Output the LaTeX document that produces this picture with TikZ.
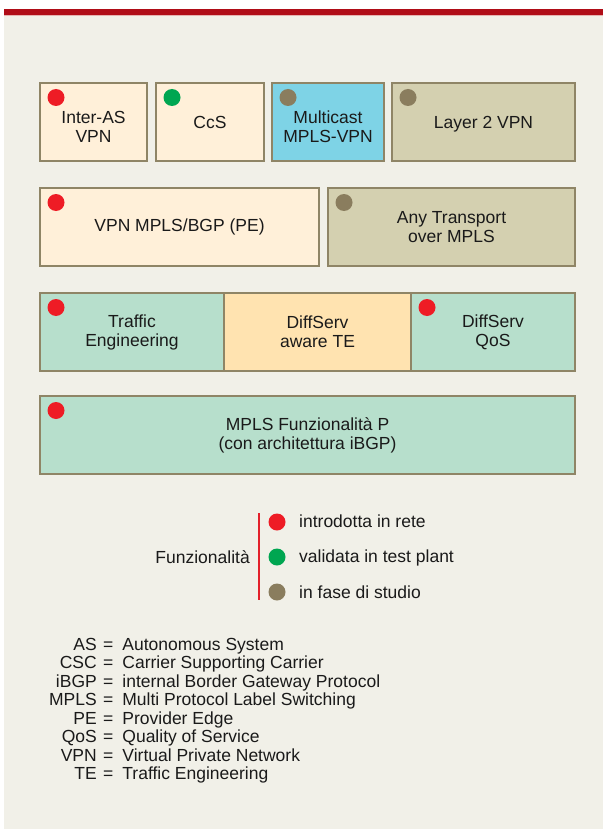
\documentclass[tikz,border=0pt]{standalone}
\usepackage{fontspec}
\setmainfont{Liberation Sans}
\usepackage{xcolor}
\usepackage{tikz}
\usetikzlibrary{positioning}

\definecolor{barred}{HTML}{B00D17}
\definecolor{barpink}{HTML}{E6B3B0}
\definecolor{panel}{HTML}{F1F0E8}
\definecolor{boxline}{HTML}{8F8566}
\definecolor{cream}{HTML}{FFF0D9}
\definecolor{skyblue}{HTML}{7ED3E6}
\definecolor{khaki}{HTML}{D4D0B0}
\definecolor{mint}{HTML}{B7DFCC}
\definecolor{apricot}{HTML}{FFE3B0}
\definecolor{dotred}{HTML}{EE1C25}
\definecolor{dotgreen}{HTML}{00A651}
\definecolor{dotbrown}{HTML}{8A7D5E}
\definecolor{legendred}{HTML}{E3202A}
\definecolor{inktext}{HTML}{1A1A1A}

\begin{document}
\begin{tikzpicture}[
  x=1pt, y=-1pt,
  node distance=8pt,
  every node/.style={font=\fontsize{17.5}{19}\selectfont, text=inktext, inner sep=0pt},
  funcbox/.style={rectangle, draw=boxline, line width=1.6pt, outer sep=0pt,
                  anchor=north west, align=center, minimum height=78pt},
  dot/.style={circle, minimum size=17pt, outer sep=0pt}
]

% page and red top bar
\useasboundingbox (0,0) rectangle (603,829);
\fill[white] (0,0) rectangle (603,829);
\fill[panel] (4,15) rectangle (603,829);
\fill[barpink] (4,15) rectangle (603,16.5);
\fill[barred] (4,9) rectangle (603,15);

% row 1
\node[funcbox, fill=cream, minimum width=107pt] (interas) at (40,83) {\rule{0pt}{22.5pt}Inter-AS\\VPN};
\node[funcbox, fill=cream, minimum width=108pt, right=9pt of interas] (ccs) {CcS};
\node[funcbox, fill=skyblue, minimum width=112pt, right=of ccs] (mcast) {\rule{0pt}{22.5pt}Multicast\\MPLS-VPN};
\node[funcbox, fill=khaki, minimum width=183pt, right=of mcast] (layer2) {\rule{0pt}{16.5pt}Layer 2 VPN};

% row 2
\node[funcbox, fill=cream, minimum width=279pt] (vpnbgp) at (40,188) {VPN MPLS/BGP (PE)};
\node[funcbox, fill=khaki, minimum width=247pt, right=9pt of vpnbgp] (atom) {Any Transport\\over MPLS};

% row 3
\node[funcbox, fill=mint, minimum width=184pt] (te) at (40,293) {Traffic\\Engineering};
\node[funcbox, fill=apricot, minimum width=187pt, right=0pt of te] (dste) {DiffServ\\aware TE};
\node[funcbox, fill=mint, minimum width=164pt, right=0pt of dste] (qos) {DiffServ\\QoS};

% row 4
\node[funcbox, fill=mint, minimum width=535pt] (mplsp) at (40,396) {MPLS Funzionalità P\\(con architettura iBGP)};

% status dots
\foreach \b/\c in {interas/dotred, ccs/dotgreen, mcast/dotbrown, layer2/dotbrown,
                   vpnbgp/dotred, atom/dotbrown, te/dotred, qos/dotred, mplsp/dotred} {
  \node[dot, fill=\c] (dot-\b) at ([shift={(16,14.5)}]\b.north west) {};
}

% legend
\coordinate (ltop) at (259,513);
\coordinate (lbot) at (259,600);
\draw[legendred, line width=2pt] (ltop) -- (lbot);
\node[anchor=base east] (funz) at (250,563) {Funzionalità};
\node[dot, fill=dotred] (lg1) at (277,522) {};
\node[dot, fill=dotgreen, below=18pt of lg1] (lg2) {};
\node[dot, fill=dotbrown, below=18pt of lg2] (lg3) {};
\node[anchor=base west] (lt1) at (299,527) {introdotta in rete};
\node[anchor=base west] (lt2) at (299,562.5) {validata in test plant};
\node[anchor=base west] (lt3) at (299,598) {in fase di studio};

% abbreviations
\foreach \i/\ab/\full in {0/AS/Autonomous System, 1/CSC/Carrier Supporting Carrier,
    2/iBGP/internal Border Gateway Protocol, 3/MPLS/Multi Protocol Label Switching,
    4/PE/Provider Edge, 5/QoS/Quality of Service, 6/VPN/Virtual Private Network,
    7/TE/Traffic Engineering} {
  \node[anchor=base east] (ab\i) at (97,650+18.57*\i) {\ab};
  \node[anchor=base west] (ex\i) at (103,650+18.57*\i) {=\hspace{9pt}\full};
}

\end{tikzpicture}
\end{document}
